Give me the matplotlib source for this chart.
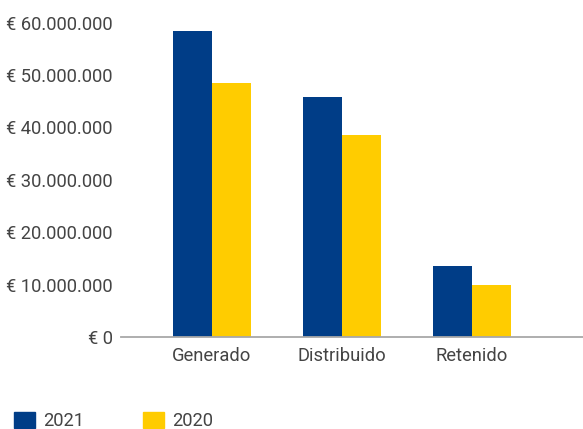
import matplotlib
matplotlib.use("Agg")
import matplotlib.pyplot as plt
from matplotlib.ticker import FuncFormatter, MultipleLocator
from matplotlib.patches import Patch
import numpy as np

categories = ["Generado", "Distribuido", "Retenido"]
years = ["2021", "2020"]
values_2021 = [58400000, 45800000, 13500000]
values_2020 = [48500000, 38500000, 9900000]
colors = ["#003D87", "#FFCC00"]

plt.rcParams['font.family'] = ['Roboto', 'DejaVu Sans']
text_color = "#444444"

W, H = 583, 429
fig = plt.figure(figsize=(W / 100, H / 100), dpi=100)
# axes placed in pixel coords of the reference
left, right, bottom, top = 121, 583, 337, 22.5
ax = fig.add_axes([left / W, (H - bottom) / H, (right - left) / W, (bottom - top) / H])

x = np.arange(len(categories))
w = 0.3
ax.bar(x - w / 2, values_2021, w, color=colors[0], label=years[0])
ax.bar(x + w / 2, values_2020, w, color=colors[1], label=years[1])

ax.set_xlim(-0.7, 2.854)
ax.set_ylim(0, 60000000)
ax.yaxis.set_major_locator(MultipleLocator(10000000))

def euro(v, pos):
    return "€ " + f"{int(round(v)):,}".replace(",", ".")

ax.yaxis.set_major_formatter(FuncFormatter(euro))
ax.set_xticks(x)
ax.set_xticklabels(categories)

for s in ["top", "right", "left"]:
    ax.spines[s].set_visible(False)
ax.spines["bottom"].set_color("#a8a8a8")
ax.spines["bottom"].set_linewidth(1.3)
ax.tick_params(axis="both", length=0, labelsize=13.2, colors=text_color)
ax.tick_params(axis="y", pad=6)
ax.tick_params(axis="x", pad=7)

handles = [Patch(color=colors[0]), Patch(color=colors[1])]
fig.legend(handles, years, loc="lower left", bbox_to_anchor=(-3 / W, -18 / H),
           ncol=2, frameon=False, fontsize=13.2, labelcolor=text_color,
           handlelength=1.15, handleheight=0.92, handletextpad=0.45,
           columnspacing=3.2)

fig.savefig("out.png", dpi=100)
